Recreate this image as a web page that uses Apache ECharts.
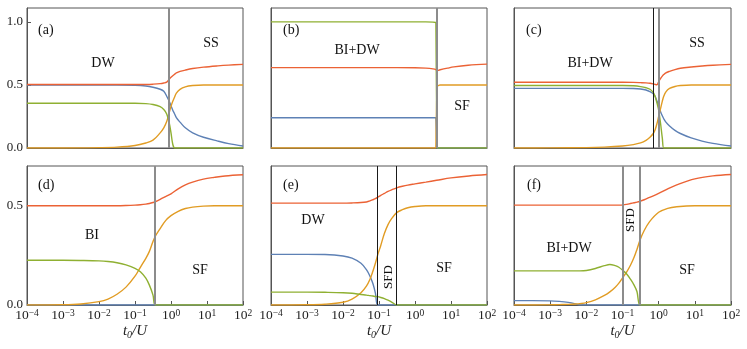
<!DOCTYPE html>
<html><head><meta charset="utf-8">
<script src="https://cdn.jsdelivr.net/npm/echarts@6/dist/echarts.min.js"></script>
<style>html,body{margin:0;padding:0;background:#fff}#c{width:747px;height:349px}</style>
</head><body><div id="c"></div>
<script>
// ---------- data ----------
const xTickExps = [-4, -3, -2, -1, 0, 1, 2];
const panelLabels = ['(a)', '(b)', '(c)', '(d)', '(e)', '(f)'];

const tA = [1e-4, 1e-3, 0.01, 0.0316, 0.1, 0.2, 0.316, 0.5, 0.63, 0.76, 0.89, 1, 1.12, 1.26, 1.41, 1.78, 2.5, 4, 8, 20, 40, 100];
const aBlue = [0.5,0.5,0.5,0.5,0.498,0.492,0.482,0.466,0.45,0.41,0.37,0.335,0.30,0.27,0.24,0.205,0.16,0.12,0.085,0.055,0.035,0.016];
const aOrange = [0,0,0.003,0.007,0.02,0.04,0.062,0.12,0.16,0.21,0.28,0.33,0.37,0.405,0.435,0.465,0.485,0.495,0.5,0.5,0.5,0.5];
const aGreen = [0.355,0.355,0.355,0.355,0.355,0.352,0.345,0.328,0.305,0.27,0.2,0.12,0.03,0,0,0,0,0,0,0,0,0];
const aRed = [0.503,0.503,0.503,0.503,0.503,0.504,0.506,0.51,0.515,0.522,0.545,0.56,0.573,0.585,0.595,0.607,0.618,0.63,0.641,0.651,0.657,0.663];
const vA = [0.84];

const tB = [1e-4, 0.01, 0.1, 1, 2, 3.16, 3.8, 4.05, 4.06, 5, 8, 12, 30, 100];
const bBlue = [0.24,0.24,0.24,0.24,0.24,0.24,0.24,0.24,0,0,0,0,0,0];
const bOrange = [0,0,0,0,0,0,0,0,0.49,0.5,0.5,0.5,0.5,0.5];
const bGreen = [1,1,1,1,1,0.998,0.995,0.99,0,0,0,0,0,0];
const bRed = [0.637,0.637,0.637,0.636,0.633,0.627,0.621,0.613,0.61,0.62,0.633,0.643,0.656,0.665];
const vB = [4.06];

const tC = [1e-4, 0.001, 0.01, 0.0316, 0.1, 0.2, 0.316, 0.447, 0.575, 0.708, 0.794, 0.891, 1, 1.122, 1.259, 1.38, 1.585, 2, 2.82, 3.98, 7.94, 15.85, 31.6, 100];
const cBlue = [0.473,0.473,0.473,0.473,0.473,0.472,0.468,0.46,0.447,0.43,0.41,0.375,0.335,0.29,0.255,0.232,0.205,0.175,0.14,0.115,0.08,0.055,0.037,0.016];
const cOrange = [0,0.001,0.003,0.007,0.016,0.027,0.04,0.06,0.085,0.115,0.143,0.19,0.25,0.31,0.37,0.41,0.445,0.472,0.488,0.495,0.5,0.5,0.5,0.5];
const cGreen = [0.495,0.495,0.495,0.495,0.495,0.493,0.487,0.478,0.466,0.44,0.41,0.36,0.3,0.2,0.08,0,0,0,0,0,0,0,0,0];
const cRed = [0.521,0.521,0.521,0.521,0.521,0.52,0.518,0.516,0.513,0.508,0.504,0.501,0.525,0.55,0.57,0.582,0.596,0.608,0.622,0.632,0.642,0.65,0.656,0.663];
const vC = [0.71, 1.0];

const tD = [1e-4, 0.001, 0.00316, 0.01, 0.0178, 0.0316, 0.0562, 0.1, 0.141, 0.2, 0.251, 0.316, 0.363, 0.5, 0.708, 1, 1.585, 2.512, 3.98, 7.94, 15.85, 31.6, 100];
const dBlue = [0,0,0,0,0,0,0,0,0,0,0,0,0,0,0,0,0,0,0,0,0,0,0];
const dOrange = [0,0.001,0.005,0.017,0.03,0.054,0.09,0.145,0.19,0.235,0.27,0.32,0.345,0.385,0.425,0.45,0.472,0.486,0.493,0.498,0.5,0.5,0.5];
const dGreen = [0.225,0.225,0.224,0.222,0.219,0.213,0.202,0.185,0.167,0.135,0.1,0.05,0,0,0,0,0,0,0,0,0,0,0];
const dRed = [0.5,0.5,0.5,0.5,0.5,0.5,0.501,0.503,0.505,0.508,0.511,0.516,0.52,0.532,0.546,0.56,0.585,0.605,0.619,0.634,0.643,0.65,0.656];
const vD = [0.363];

const tE = [1e-4, 0.001, 0.00316, 0.01, 0.0178, 0.0316, 0.0447, 0.0562, 0.0676, 0.0794, 0.0912, 0.112, 0.141, 0.178, 0.224, 0.31, 0.447, 0.631, 1, 2, 3.98, 10, 31.6, 100];
const eBlue = [0.255,0.255,0.254,0.247,0.236,0.21,0.178,0.145,0.108,0.06,0,0,0,0,0,0,0,0,0,0,0,0,0,0];
const eOrange = [0,0.001,0.004,0.014,0.03,0.062,0.095,0.13,0.17,0.21,0.25,0.3,0.36,0.405,0.435,0.465,0.48,0.49,0.496,0.5,0.5,0.5,0.5,0.5];
const eGreen = [0.065,0.065,0.064,0.062,0.059,0.053,0.05,0.047,0.045,0.043,0.042,0.038,0.032,0.024,0.015,0,0,0,0,0,0,0,0,0];
const eRed = [0.513,0.513,0.513,0.513,0.514,0.516,0.519,0.524,0.53,0.536,0.542,0.552,0.562,0.572,0.58,0.59,0.598,0.604,0.61,0.619,0.628,0.64,0.65,0.657];
const vE = [0.0912, 0.31];

const tF = [1e-4, 3.16e-4, 0.001, 0.00178, 0.00316, 0.005, 0.0066, 0.01, 0.0178, 0.0316, 0.0447, 0.0631, 0.0794, 0.105, 0.132, 0.166, 0.209, 0.251, 0.302, 0.398, 0.562, 1, 1.778, 3.16, 10, 31.6, 100];
const fBlue = [0.022,0.022,0.021,0.018,0.013,0.006,0,0,0,0,0,0,0,0,0,0,0,0,0,0,0,0,0,0,0,0,0];
const fOrange = [0,0,0.001,0.002,0.003,0.005,0.007,0.012,0.026,0.048,0.066,0.09,0.11,0.142,0.168,0.2,0.24,0.28,0.325,0.375,0.42,0.467,0.487,0.495,0.5,0.5,0.5];
const fGreen = [0.172,0.172,0.172,0.172,0.172,0.172,0.172,0.174,0.184,0.198,0.204,0.198,0.19,0.172,0.155,0.13,0.1,0.068,0,0,0,0,0,0,0,0,0];
const fRed = [0.503,0.503,0.503,0.503,0.503,0.503,0.503,0.503,0.503,0.503,0.503,0.503,0.503,0.504,0.507,0.511,0.515,0.518,0.522,0.53,0.542,0.562,0.585,0.605,0.635,0.65,0.657];
const vF = [0.105, 0.302];

// ---------- layout / style ----------
const SERIF = '"Liberation Serif","DejaVu Serif",serif';
const COLORS = { blue: '#5E81B5', orange: '#E19C24', green: '#8FB032', red: '#EB6235' };
const FRAME = '#555';
const VSTYLE = { g: { color: '#8c8c8c', width: 2 }, k: { color: '#1a1a1a', width: 1 } };

const panels = [
  { t: tA, s: { blue: aBlue, orange: aOrange, green: aGreen, red: aRed }, v: vA, vs: ['g'], smoothStep: false },
  { t: tB, s: { blue: bBlue, orange: bOrange, green: bGreen, red: bRed }, v: vB, vs: ['g'], smoothStep: true },
  { t: tC, s: { blue: cBlue, orange: cOrange, green: cGreen, red: cRed }, v: vC, vs: ['k', 'g'], smoothStep: false },
  { t: tD, s: { blue: dBlue, orange: dOrange, green: dGreen, red: dRed }, v: vD, vs: ['g'], smoothStep: false },
  { t: tE, s: { blue: eBlue, orange: eOrange, green: eGreen, red: eRed }, v: vE, vs: ['k', 'k'], smoothStep: false },
  { t: tF, s: { blue: fBlue, orange: fOrange, green: fGreen, red: fRed }, v: vF, vs: ['g', 'g'], smoothStep: false }
];
const gridPos = [
  { left: 27, top: 8, width: 216, height: 140 },
  { left: 271, top: 8, width: 216, height: 140 },
  { left: 514, top: 8, width: 217, height: 140 },
  { left: 27, top: 166, width: 216, height: 139 },
  { left: 271, top: 166, width: 216, height: 139 },
  { left: 514, top: 166, width: 217, height: 139 }
];

const grid = [], xAxis = [], yAxis = [], series = [];
panels.forEach((p, i) => {
  const bottomRow = i >= 3, firstCol = i % 3 === 0;
  grid.push(Object.assign({ show: true, borderColor: FRAME, borderWidth: 1, backgroundColor: 'transparent' }, gridPos[i]));
  xAxis.push({
    type: 'log', logBase: 10, min: 1e-4, max: 100, gridIndex: i,
    splitLine: { show: false },
    axisLine: { show: true, lineStyle: { color: FRAME, width: 1 } },
    axisTick: { show: bottomRow, inside: true, length: 4, lineStyle: { color: FRAME } },
    minorTick: { show: false },
    axisLabel: {
      show: bottomRow, margin: 3,
      formatter: v => {
        const e = Math.round(Math.log10(v));
        return '{b|10}{s|' + (e < 0 ? '\u2212' + (-e) : e) + '}';
      },
      rich: {
        b: { fontFamily: SERIF, fontSize: 13.5, color: '#222', verticalAlign: 'bottom', lineHeight: 14 },
        s: { fontFamily: SERIF, fontSize: 9.5, color: '#222', verticalAlign: 'top', lineHeight: 10, padding: [0, 0, 8, 0] }
      }
    },
    name: bottomRow ? '{i|t}{d|0}{i|/U}' : '',
    nameLocation: 'middle', nameGap: 19, nameMoveOverlap: false,
    nameTextStyle: {
      rich: {
        i: { fontFamily: SERIF, fontStyle: 'italic', fontSize: 15, color: '#222', verticalAlign: 'top', lineHeight: 16 },
        d: { fontFamily: SERIF, fontStyle: 'italic', fontSize: 10, color: '#222', verticalAlign: 'bottom', lineHeight: 10, padding: [8, 0, 0, 0] }
      }
    }
  });
  yAxis.push({
    type: 'value', gridIndex: i, min: 0, max: bottomRow ? 0.7 : 1.11, interval: 0.5,
    splitLine: { show: false },
    axisLine: { show: true, lineStyle: { color: FRAME, width: 1 } },
    axisTick: { show: firstCol, inside: true, length: 4, lineStyle: { color: FRAME } },
    axisLabel: {
      show: firstCol, showMaxLabel: false, margin: 4, fontFamily: SERIF, fontSize: 13, color: '#222',
      formatter: v => (Math.abs(v * 2 - Math.round(v * 2)) < 1e-9 ? v.toFixed(1) : '')
    }
  });
  ['blue', 'orange', 'green', 'red'].forEach(k => {
    const step = p.smoothStep && k !== 'red';
    series.push({
      type: 'line', xAxisIndex: i, yAxisIndex: i, showSymbol: false, symbol: 'none',
      smooth: step ? false : 0.35, clip: true,
      lineStyle: { color: COLORS[k], width: 1.4 },
      data: p.t.map((x, j) => [x, p.s[k][j]])
    });
  });
  series.push({
    type: 'line', xAxisIndex: i, yAxisIndex: i, data: [], z: 5,
    markLine: {
      silent: true, symbol: ['none', 'none'], animation: false, label: { show: false },
      data: p.v.map((x, j) => ({ xAxis: x, lineStyle: { color: VSTYLE[p.vs[j]].color, width: VSTYLE[p.vs[j]].width, type: 'solid' } }))
    }
  });
});

function txt(s, x, y, size, rot, align) {
  return {
    type: 'text', x: x, y: y, rotation: rot || 0, z: 100,
    style: { text: s, font: size + 'px ' + SERIF, fill: '#111', align: align || 'center', verticalAlign: 'middle', textAlign: align || 'center', textVerticalAlign: 'middle' }
  };
}
const graphic = [
  txt('(a)', 38, 30, 14, 0, 'left'), txt('DW', 103, 63, 14), txt('SS', 211, 43, 14),
  txt('(b)', 283, 30, 14, 0, 'left'), txt('BI+DW', 357, 50, 14), txt('SF', 462, 106, 14),
  txt('(c)', 526, 30, 14, 0, 'left'), txt('BI+DW', 590, 63, 14), txt('SS', 697, 43, 14),
  txt('(d)', 38, 185, 14, 0, 'left'), txt('BI', 92, 235, 14), txt('SF', 200, 270, 14),
  txt('(e)', 283, 185, 14, 0, 'left'), txt('DW', 313, 220, 14), txt('SFD', 389, 277, 13, Math.PI / 2), txt('SF', 444, 268, 14),
  txt('(f)', 527, 185, 14, 0, 'left'), txt('BI+DW', 569, 248, 14), txt('SFD', 631, 220, 13, Math.PI / 2), txt('SF', 687, 270, 14)
];

const chart = echarts.init(document.getElementById('c'), null, { renderer: 'canvas' });
chart.setOption({ animation: false, backgroundColor: '#fff', grid, xAxis, yAxis, series, graphic });
</script></body></html>
